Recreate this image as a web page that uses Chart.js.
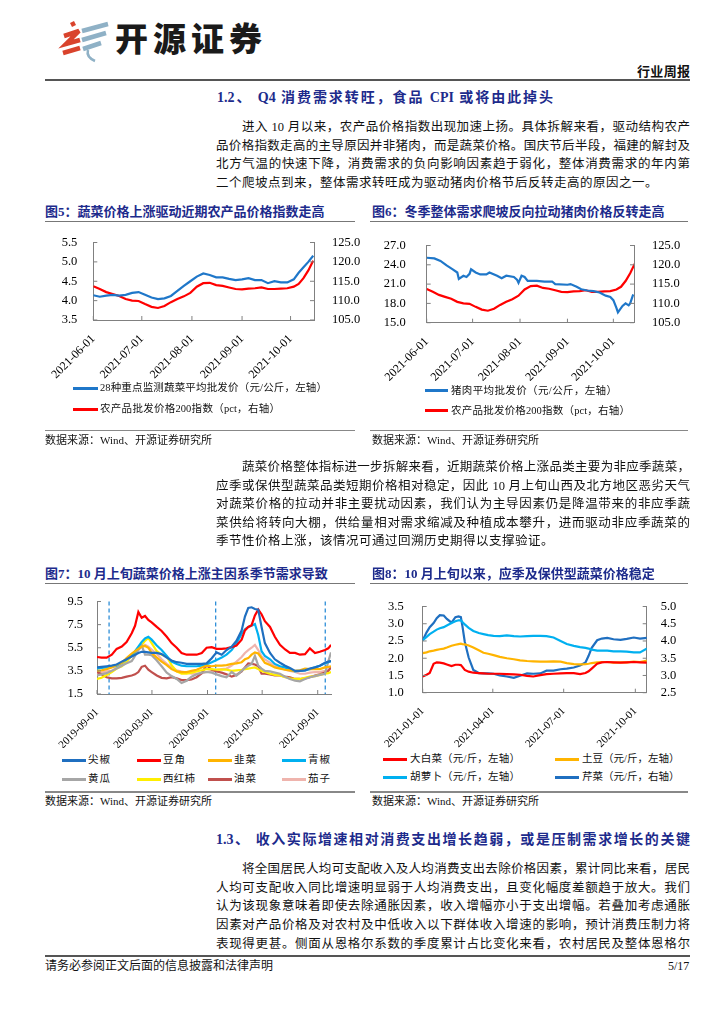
<!DOCTYPE html>
<html lang="zh-CN">
<head>
<meta charset="utf-8">
<title>行业周报</title>
<script src="https://cdn.jsdelivr.net/npm/chart.js@4.4.1/dist/chart.umd.min.js"></script>
<style>
    html, body { margin: 0; padding: 0; background: #fff; }
    #pagina { position: relative; width: 724px; height: 1024px; overflow: hidden;
              font-family: "Liberation Serif", "Noto Sans CJK SC", serif; color: #111; }
    .t { position: absolute; white-space: nowrap; line-height: 18px; height: 18px; }
    .j { text-align: justify; text-align-last: justify; }
    .regla, .clave { position: absolute; }
    canvas { position: absolute; }
    #marca { position: absolute; left: 115px; top: 15px; font-family: "Noto Sans CJK SC", sans-serif;
             font-weight: 900; font-size: 33px; letter-spacing: 5px; color: #1a1a1a; line-height: 44px; }
</style>
</head>
<body>
<div id="pagina">
    <svg style="position:absolute;left:56px;top:18px" width="58" height="48" viewBox="56 18 58 48">
        <g stroke="#d9432c" stroke-width="4.5" stroke-linecap="butt" fill="none">
            <line x1="71" y1="25" x2="75" y2="23"/>
            <polyline points="64,36 79,31 66,44 80,40"/>
            <line x1="63" y1="53" x2="80" y2="48"/>
        </g>
        <g stroke="#8fb1c6" stroke-width="4.5" fill="none">
            <line x1="82" y1="31" x2="108" y2="24"/>
            <line x1="82" y1="40" x2="106" y2="33"/>
            <line x1="83" y1="49" x2="101" y2="43"/>
            <path d="M88 50 Q86 57 95 61" stroke-width="2.5"/>
        </g>
    </svg>
    <div id="marca">开源证券</div>

    <canvas id="grafica5"></canvas>
    <canvas id="grafica6"></canvas>
    <canvas id="grafica7"></canvas>
    <canvas id="grafica8"></canvas>
</div>

<script>
// ---- datos ----
// graficas 5 y 6: dias desde 2021-06-01
var dias5 = [0,4,8,12,16,20,24,28,32,36,40,44,48,52,56,60,64,68,72,76,80,84,88,92,96,100,104,108,112,116,120,124,127,130,133,136];
var verduras28 = [4.14,4.1,4.13,4.15,4.13,4.15,4.2,4.22,4.15,4.08,4.04,4.06,4.12,4.25,4.38,4.5,4.62,4.7,4.66,4.6,4.6,4.56,4.53,4.55,4.58,4.53,4.53,4.45,4.5,4.47,4.47,4.55,4.72,4.86,5.0,5.16];
var indice200 = [113.7,113.0,112.2,111.7,111.2,110.4,110.0,109.9,109.1,108.4,108.1,108.6,109.6,110.4,111.1,112.0,113.6,114.5,114.6,114.0,113.8,113.4,113.0,112.9,113.1,113.2,113.4,113.0,113.0,113.1,113.2,113.6,114.3,115.8,117.8,120.3];

var dias6 = [0,5,9,13,17,20,21,24,26,28,29,32,35,39,41,46,49,52,57,59,60,62,64,66,72,77,82,84,92,94,98,101,105,109,113,117,120,122,124,125,128,130,132,133,135];
var cerdo = [25.1,25.0,24.6,23.9,23.3,22.8,21.8,22.3,22.1,22.6,23.3,22.8,22.5,22.5,22.8,22.3,21.9,22.3,22.1,21.7,21.2,22.3,22.1,21.5,21.5,21.4,21.4,21.0,20.9,21.0,20.6,20.2,20.0,19.9,19.7,19.2,19.0,18.5,17.3,16.6,17.6,18.0,17.7,18.0,19.4];

var ticksMes = [0,30,61,92,122];
var etiquetasMes = ['2021-06-01','2021-07-01','2021-08-01','2021-09-01','2021-10-01'];

// grafica 7: dias desde 2019-09-01
var dias7 = [0,15,32,49,65,82,98,115,126,137,148,159,170,181,198,214,231,247,264,280,297,313,330,347,363,380,396,413,429,446,462,479,490,501,512,523,534,545,556,573,589,606,623,639,656,672,689,705,722,738,755,766,775];
var jianjiao  = [3.8,3.85,3.9,3.95,4.05,4.3,4.5,4.75,4.9,5.05,5.15,5.15,5.1,5.05,5.05,4.95,4.65,4.4,4.25,4.2,4.1,4.1,4.1,4.1,4.15,4.6,5.1,4.9,5.3,5.6,6.1,7.0,8.2,8.95,9.0,8.85,8.8,7.3,5.9,5.05,4.5,4.2,3.95,3.75,3.5,3.5,3.55,3.7,3.8,3.95,4.2,4.3,4.35];
var doujiao   = [4.7,4.65,4.64,4.9,5.4,5.6,6.0,6.75,7.4,8.6,8.1,8.25,7.9,7.7,7.3,6.95,6.45,5.9,5.5,5.05,4.9,4.9,4.9,5.05,5.5,5.55,5.4,5.4,5.45,5.55,5.7,6.2,7.0,7.3,7.45,8.3,8.8,8.4,7.8,7.3,6.45,5.75,5.35,5.05,5.05,4.9,4.95,5.45,5.05,5.15,5.3,5.45,5.75];
var jiucai    = [3.5,3.55,3.65,3.8,4.0,4.2,4.6,5.0,5.2,5.4,5.6,5.65,5.5,5.05,4.65,4.3,4.0,3.65,3.45,3.4,3.4,3.5,3.6,3.8,3.95,3.9,3.95,3.95,4.0,4.1,4.15,4.25,4.5,4.6,4.9,5.1,5.0,4.6,4.2,4.0,3.8,3.7,3.6,3.55,3.5,3.55,3.7,3.65,3.65,3.65,3.8,3.85,3.9];
var qingjiao  = [3.7,3.75,3.8,3.85,3.95,4.2,4.5,4.85,5.2,5.6,6.0,6.3,6.45,6.2,5.7,5.3,4.8,4.3,4.1,3.95,3.9,3.9,3.9,3.95,4.05,4.25,4.45,4.65,4.9,5.3,5.9,6.7,7.1,7.3,7.4,7.55,6.6,5.2,4.8,4.5,4.1,3.9,3.8,3.6,3.45,3.5,3.55,3.65,3.8,3.95,4.15,4.25,4.35];
var huanggua  = [3.1,3.2,3.3,3.5,3.7,3.95,4.15,4.35,4.8,5.3,5.7,4.9,4.9,4.85,4.4,3.9,3.35,3.05,2.8,2.45,2.65,3.0,3.2,3.35,3.4,3.35,3.2,3.05,2.95,3.4,3.1,3.5,3.75,3.95,4.1,4.8,3.95,3.7,3.5,3.45,3.35,3.25,3.0,2.8,2.65,2.6,2.8,2.95,3.05,3.15,3.25,4.3,5.1];
var xihongshi = [2.8,2.9,3.15,3.4,3.7,3.9,4.3,4.8,5.15,5.5,5.75,6.1,6.35,5.9,5.2,4.9,4.75,4.0,3.45,3.25,3.25,3.35,3.45,3.55,3.65,3.65,3.6,3.6,3.6,3.5,3.55,3.6,3.65,3.7,3.75,3.8,3.65,3.5,3.4,3.25,3.15,3.1,2.95,2.85,2.8,2.8,2.9,3.0,3.05,3.15,3.25,3.3,3.4];
var youcai    = [3.4,3.2,2.95,2.85,2.85,2.9,3.0,3.1,3.2,3.4,3.85,3.95,3.6,3.4,3.1,2.9,2.85,2.95,2.85,2.7,2.7,2.75,2.95,3.3,4.0,3.6,3.45,3.35,3.2,3.0,3.15,3.45,3.8,4.15,4.1,4.05,3.9,3.25,3.25,3.2,3.1,3.1,3.0,2.95,2.8,2.8,2.85,2.95,3.1,3.2,3.35,3.5,3.8];
var qiezi     = [3.25,3.35,3.45,3.5,3.8,4.0,4.3,4.8,5.1,5.35,5.55,5.75,5.6,5.35,4.95,4.5,4.1,3.8,3.55,3.45,3.35,3.25,3.25,3.3,3.4,3.5,3.6,3.65,3.7,3.95,4.3,4.7,5.05,5.3,5.5,5.75,5.3,4.75,4.5,4.2,3.95,3.8,3.6,3.5,3.4,3.25,3.25,3.35,3.4,3.4,3.5,3.6,3.8];
var octubre7 = [40,393,756];
var ticks7 = [0,182,366,547,731];
var etiquetas7 = ['2019-09-01','2020-03-01','2020-09-01','2021-03-01','2021-09-01'];

// grafica 8: dias desde 2021-01-01
var dias8 = [0,5,9,14,18,22,27,31,37,42,46,49,51,54,59,65,72,78,84,91,99,108,117,125,134,142,151,159,168,177,185,194,202,209,213,217,224,230,237,245,254,262,271,279,288];
var dabaicai = [1.47,1.52,1.57,1.84,1.88,1.87,1.85,1.82,1.77,1.81,1.81,1.8,1.75,1.66,1.61,1.58,1.57,1.56,1.55,1.55,1.55,1.54,1.53,1.52,1.49,1.47,1.51,1.54,1.55,1.56,1.57,1.57,1.54,1.57,1.62,1.7,1.84,1.88,1.89,1.88,1.87,1.88,1.89,1.88,1.87];
var tudou    = [2.15,2.17,2.2,2.22,2.24,2.26,2.28,2.31,2.36,2.39,2.41,2.42,2.41,2.4,2.37,2.31,2.23,2.16,2.13,2.09,2.04,2.0,1.97,1.94,1.92,1.91,1.9,1.9,1.91,1.9,1.86,1.83,1.82,1.83,1.84,1.86,1.88,1.89,1.89,1.87,1.88,1.88,1.9,1.89,1.93];
var huluobo  = [2.52,2.62,2.7,2.77,2.83,2.87,2.9,2.95,3.02,3.07,3.1,3.1,3.05,2.98,2.88,2.79,2.73,2.7,2.67,2.65,2.64,2.66,2.64,2.63,2.64,2.65,2.65,2.64,2.6,2.5,2.41,2.36,2.32,2.3,2.28,2.25,2.22,2.22,2.22,2.2,2.2,2.19,2.17,2.17,2.28];
var qincai   = [4.02,4.25,4.4,4.52,4.66,4.75,4.74,4.64,4.53,4.69,4.71,4.69,4.43,3.98,3.52,3.16,3.07,3.06,3.06,3.05,3.0,2.97,2.93,2.99,3.06,3.05,3.06,3.14,3.14,3.18,3.2,3.23,3.29,3.38,3.57,3.8,4.02,4.07,4.09,4.05,4.03,4.06,4.1,4.07,4.09];
var ticks8 = [0,90,181,273];
var etiquetas8 = ['2021-01-01','2021-04-01','2021-07-01','2021-10-01'];

var AZUL = '#1f77c9', ROJO = '#ff0000', AZUL_OSC = '#1f6fc0', CELESTE = '#00b0f0',
    NARANJA = '#ffb400', GRIS = '#a6a6a6', AMARILLO = '#ffee00', GRANATE = '#c0504d', ROSA = '#efb4ad';
var AZUL_TIT = '#1d2b8c';

// ---- textos de la pagina ----
var pagina = document.getElementById('pagina');

function texto(str, left, cy, width, css) {
    var d = document.createElement('div');
    d.className = 't' + (width ? ' j' : '');
    d.textContent = str;
    d.style.left = left + 'px';
    d.style.top = (cy - 9) + 'px';
    if (width) d.style.width = width + 'px';
    d.style.cssText += css || '';
    pagina.appendChild(d);
}

function regla(x, y, w, h, color) {
    var d = document.createElement('div');
    d.className = 'regla';
    d.style.cssText = 'left:' + x + 'px;top:' + y + 'px;width:' + w + 'px;height:' + h + 'px;background:' + color;
    pagina.appendChild(d);
}

function clave(x, y, w, color) {
    var d = document.createElement('div');
    d.className = 'clave';
    d.style.cssText = 'left:' + x + 'px;top:' + (y - 1.5) + 'px;width:' + w + 'px;height:3px;background:' + color;
    pagina.appendChild(d);
}

var P = 'font-size:12.5px;';
var PU = 'font-size:12.5px;letter-spacing:0.5px;';
var TIT = 'font-size:14px;font-weight:bold;color:' + AZUL_TIT + ';';
var FIG = 'font-size:13px;font-weight:bold;color:' + AZUL_TIT + ';';
var SRC = 'font-size:11px;';
var LEG = 'font-size:10.5px;';

texto('行业周报', 637, 72, 53, 'font-size:13px;font-weight:bold;');
regla(45, 79, 645, 2, '#555');

texto('1.2、 Q4 消费需求转旺，食品 CPI 或将由此掉头', 217, 98, 336, TIT);
texto('进入 10 月以来，农产品价格指数出现加速上扬。具体拆解来看，驱动结构农产', 242, 127, 448, P);
texto('品价格指数走高的主导原因并非猪肉，而是蔬菜价格。国庆节后半段，福建的解封及', 216, 145.6, 474, P);
texto('北方气温的快速下降，消费需求的负向影响因素趋于弱化，整体消费需求的年内第', 216, 164.2, 474, P);
texto('二个爬坡点到来，整体需求转旺成为驱动猪肉价格节后反转走高的原因之一。', 216, 182.8, 0, PU);

texto('图5：蔬菜价格上涨驱动近期农产品价格指数走高', 45, 212, 274, FIG);
texto('图6：冬季整体需求爬坡反向拉动猪肉价格反转走高', 372, 212, 286, FIG);
regla(45, 221, 310, 1, '#777');
regla(370, 221, 318, 1, '#777');

clave(73, 388.3, 25, AZUL);
texto('28种重点监测蔬菜平均批发价（元/公斤，左轴）', 100, 388.3, 227, LEG);
clave(73, 409.3, 25, ROJO);
texto('农产品批发价格200指数（pct，右轴）', 100, 409.3, 180, LEG);
clave(425, 390.7, 23, AZUL);
texto('猪肉平均批发价（元/公斤，左轴）', 451, 390.7, 166, LEG);
clave(425, 410.7, 23, ROJO);
texto('农产品批发价格200指数（pct，右轴）', 451, 410.7, 179, LEG);

regla(45, 429.5, 310, 1.5, '#888');
regla(370, 429.5, 318, 1.5, '#888');
texto('数据来源：Wind、开源证券研究所', 45, 440, 165, SRC);
texto('数据来源：Wind、开源证券研究所', 372, 440, 165, SRC);

texto('蔬菜价格整体指标进一步拆解来看，近期蔬菜价格上涨品类主要为非应季蔬菜，', 242, 467, 448, P);
texto('应季或保供型蔬菜品类短期价格相对稳定，因此 10 月上旬山西及北方地区恶劣天气', 216, 485.6, 474, P);
texto('对蔬菜价格的拉动并非主要扰动因素，我们认为主导因素仍是降温带来的非应季蔬', 216, 504.2, 474, P);
texto('菜供给将转向大棚，供给量相对需求缩减及种植成本攀升，进而驱动非应季蔬菜的', 216, 522.8, 474, P);
texto('季节性价格上涨，该情况可通过回溯历史期得以支撑验证。', 216, 541.4, 0, PU);

texto('图7：10 月上旬蔬菜价格上涨主因系季节需求导致', 45, 574, 278, FIG);
texto('图8：10 月上旬以来，应季及保供型蔬菜价格稳定', 372, 574, 276, FIG);
regla(45, 583, 310, 1, '#777');
regla(370, 583, 318, 1, '#777');

var claves7 = [['尖椒', AZUL_OSC], ['豆角', ROJO], ['韭菜', NARANJA], ['青椒', CELESTE],
               ['黄瓜', GRIS], ['西红柿', AMARILLO], ['油菜', GRANATE], ['茄子', ROSA]];
var colX7 = [62, 137, 208, 282];
claves7.forEach(function (c, i) {
    var x = colX7[i % 4], y = i < 4 ? 760 : 779;
    clave(x, y, 23.5, c[1]);
    texto(c[0], x + 26, y, c[0].length === 3 ? 32 : 22, LEG);
});

var claves8 = [['大白菜（元/斤，左轴）', ROJO], ['土豆（元/斤，左轴）', NARANJA],
               ['胡萝卜（元/斤，左轴）', CELESTE], ['芹菜（元/斤，右轴）', AZUL_OSC]];
claves8.forEach(function (c, i) {
    var x = i % 2 === 0 ? 383 : 555, y = i < 2 ? 759 : 777;
    clave(x, y, 23.5, c[1]);
    texto(c[0], x + 27, y, i % 2 === 0 ? 110 : 80, LEG);
});

regla(45, 791, 310, 1.5, '#888');
regla(370, 791, 318, 1.5, '#888');
texto('数据来源：Wind、开源证券研究所', 45, 801, 165, SRC);
texto('数据来源：Wind、开源证券研究所', 372, 801, 165, SRC);

texto('1.3、 收入实际增速相对消费支出增长趋弱，或是压制需求增长的关键', 216, 840, 474, TIT);
texto('将全国居民人均可支配收入及人均消费支出去除价格因素，累计同比来看，居民', 242, 869, 448, P);
texto('人均可支配收入同比增速明显弱于人均消费支出，且变化幅度差额趋于放大。我们', 216, 887.7, 474, P);
texto('认为该现象意味着即使去除通胀因素，收入增幅亦小于支出增幅。若叠加考虑通胀', 216, 906.4, 474, P);
texto('因素对产品价格及对农村及中低收入以下群体收入增速的影响，预计消费压制力将', 216, 925.1, 474, P);
texto('表现得更甚。侧面从恩格尔系数的季度累计占比变化来看，农村居民及整体恩格尔', 216, 943.8, 474, P);

regla(45, 955, 645, 2, '#555');
texto('请务必参阅正文后面的信息披露和法律声明', 45, 966, 228, 'font-size:12px;');
texto('5/17', 668, 966, 22, 'font-size:12px;');

// ---- graficas ----
Chart.defaults.font.family = "'Liberation Serif', 'Noto Sans CJK SC', serif";
Chart.defaults.color = '#000';

function puntos(dias, valores) {
    return dias.map(function (d, i) { return { x: d, y: valores[i] }; });
}

function serie(dias, valores, color, eje) {
    return {
        data: puntos(dias, valores),
        borderColor: color,
        backgroundColor: color,
        borderWidth: 2.2,
        pointRadius: 0,
        tension: 0,
        yAxisID: eje || 'y'
    };
}

function ejeY(pos, min, max, paso, ancho, pad) {
    return {
        position: pos, min: min, max: max,
        grid: { display: false },
        border: { display: true, color: '#808080', width: 1 },
        ticks: {
            autoSkip: false,
            padding: pad,
            font: { size: 12.5 },
            callback: function (v) { return Number(v).toFixed(1); }
        },
        afterBuildTicks: function (s) {
            var t = [];
            for (var v = min; v <= max + 1e-9; v += paso) t.push({ value: Math.round(v * 1000) / 1000 });
            s.ticks = t;
        },
        afterFit: function (s) { s.width = ancho; }
    };
}

function ejeX(max, ticks, etiquetas, alto, pad, tam) {
    return {
        type: 'linear', min: 0, max: max,
        grid: { display: false },
        border: { display: true, color: '#808080', width: 1 },
        ticks: {
            autoSkip: false,
            minRotation: 45, maxRotation: 45, padding: pad,
            font: { size: tam },
            callback: function (v) { var i = ticks.indexOf(v); return i < 0 ? '' : etiquetas[i]; }
        },
        afterBuildTicks: function (s) { s.ticks = ticks.map(function (v) { return { value: v }; }); },
        afterFit: function (s) { s.height = alto; }
    };
}

var marcasInternas = {
    id: 'marcasInternas',
    afterDraw: function (chart) {
        var ctx = chart.ctx, a = chart.chartArea;
        ctx.save();
        ctx.strokeStyle = '#808080';
        ctx.lineWidth = 1;
        Object.values(chart.scales).forEach(function (s) {
            s.ticks.forEach(function (t) {
                var p = s.getPixelForValue(t.value);
                ctx.beginPath();
                if (s.axis === 'x') { ctx.moveTo(p, a.bottom); ctx.lineTo(p, a.bottom - 4); }
                else if (s.position === 'left') { ctx.moveTo(a.left, p); ctx.lineTo(a.left + 4, p); }
                else { ctx.moveTo(a.right, p); ctx.lineTo(a.right - 4, p); }
                ctx.stroke();
            });
        });
        ctx.restore();
    }
};

var lineasOctubre = {
    id: 'lineasOctubre',
    beforeDatasetsDraw: function (chart) {
        var ctx = chart.ctx, a = chart.chartArea, x = chart.scales.x;
        ctx.save();
        ctx.strokeStyle = '#2f8fd8';
        ctx.lineWidth = 1.3;
        ctx.setLineDash([4, 3]);
        octubre7.forEach(function (d) {
            var p = x.getPixelForValue(d);
            ctx.beginPath();
            ctx.moveTo(p, a.top);
            ctx.lineTo(p, a.bottom);
            ctx.stroke();
        });
        ctx.restore();
    }
};

function crearGrafica(id, caja, area, datasets, escalas, extras) {
    var cv = document.getElementById(id);
    cv.width = caja.w;
    cv.height = caja.h;
    cv.style.left = caja.x + 'px';
    cv.style.top = caja.y + 'px';
    cv.style.width = caja.w + 'px';
    cv.style.height = caja.h + 'px';
    var derecha = escalas.y2 ? 0 : (caja.x + caja.w - area.r);
    return new Chart(cv, {
        type: 'line',
        data: { datasets: datasets },
        options: {
            responsive: false,
            animation: false,
            devicePixelRatio: 1,
            layout: { padding: { top: area.t - caja.y, right: derecha, left: 0, bottom: 0 } },
            plugins: { legend: { display: false }, tooltip: { enabled: false } },
            scales: escalas
        },
        plugins: [marcasInternas].concat(extras || [])
    });
}

// figura 5
var caja5 = { x: 40, y: 225, w: 322, h: 160 }, area5 = { l: 93.3, t: 239.3, r: 314, b: 320 };
crearGrafica('grafica5', caja5, area5, [
    serie(dias5, verduras28, AZUL, 'y'),
    serie(dias5, indice200, ROJO, 'y2')
], {
    x: ejeX(136.5, ticksMes, etiquetasMes, caja5.y + caja5.h - area5.b, 4, 12),
    y: ejeY('left', 3.5, 5.5, 0.5, area5.l - caja5.x, 8),
    y2: ejeY('right', 105, 125, 5, caja5.x + caja5.w - area5.r, 10)
});

// figura 6
var caja6 = { x: 370, y: 225, w: 322, h: 160 }, area6 = { l: 426.7, t: 239, r: 634, b: 322.7 };
crearGrafica('grafica6', caja6, area6, [
    serie(dias6, cerdo, AZUL, 'y'),
    serie(dias5, indice200, ROJO, 'y2')
], {
    x: ejeX(135.5, ticksMes, etiquetasMes, caja6.y + caja6.h - area6.b, 4, 12),
    y: ejeY('left', 15, 27, 3, area6.l - caja6.x, 13),
    y2: ejeY('right', 105, 125, 5, caja6.x + caja6.w - area6.r, 10)
});

// figura 7
var caja7 = { x: 36, y: 588, w: 324, h: 160 }, area7 = { l: 97, t: 598.7, r: 331, b: 694 };
crearGrafica('grafica7', caja7, area7, [
    serie(dias7, jianjiao, AZUL_OSC),
    serie(dias7, doujiao, ROJO),
    serie(dias7, jiucai, NARANJA),
    serie(dias7, qingjiao, CELESTE),
    serie(dias7, huanggua, GRIS),
    serie(dias7, xihongshi, AMARILLO),
    serie(dias7, youcai, GRANATE),
    serie(dias7, qiezi, ROSA)
], {
    x: ejeX(775, ticks7, etiquetas7, caja7.y + caja7.h - area7.b, 4, 11),
    y: ejeY('left', 1.5, 9.5, 2, area7.l - caja7.x, 6)
}, [lineasOctubre]);

// figura 8
var caja8 = { x: 370, y: 588, w: 322, h: 160 }, area8 = { l: 422.7, t: 601.3, r: 646.7, b: 692.7 };
crearGrafica('grafica8', caja8, area8, [
    serie(dias8, dabaicai, ROJO, 'y'),
    serie(dias8, tudou, NARANJA, 'y'),
    serie(dias8, huluobo, CELESTE, 'y'),
    serie(dias8, qincai, AZUL_OSC, 'y2')
], {
    x: ejeX(287.6, ticks8, etiquetas8, caja8.y + caja8.h - area8.b, 4, 11),
    y: ejeY('left', 1.0, 3.5, 0.5, area8.l - caja8.x, 11),
    y2: ejeY('right', 2.5, 5.0, 0.5, caja8.x + caja8.w - area8.r, 6)
});
</script>
</body>
</html>
